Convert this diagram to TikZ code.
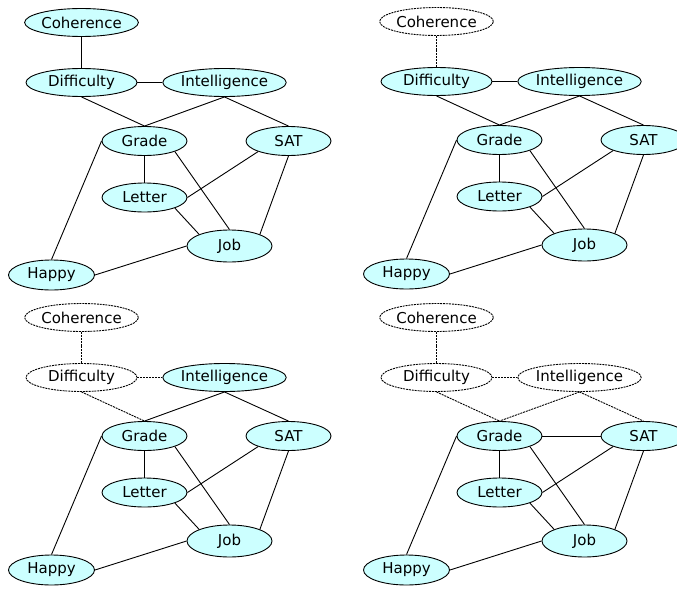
\documentclass[tikz,border=0pt]{standalone}
\usepackage{fontspec}
\setmainfont{DejaVu Sans}
\usetikzlibrary{shapes.geometric}
\definecolor{nodecyan}{RGB}{204,255,255}

\tikzset{
  var/.style={ellipse, draw, line width=0.9pt, fill=nodecyan, inner sep=0pt,
              font=\fontsize{15}{15}\selectfont},
  longvar/.style={var, minimum width=111pt, minimum height=28pt},
  shortvar/.style={var, minimum width=85pt, minimum height=29pt},
  link/.style={line width=0.9pt},
  % removed variables and their edges
  hidden/.style={fill=white, dash pattern=on 2pt off 0.9pt},
  hiddenlink/.style={dash pattern=on 2pt off 0.9pt},
  % per-panel hooks, overridden in each scope
  cohnode/.style={}, difnode/.style={}, intnode/.style={},
  cdedge/.style={}, diedge/.style={}, dgedge/.style={},
  igedge/.style={}, isedge/.style={}
}

% one copy of the student network; #1 is the node-name prefix
\newcommand\studentnet[1]{%
  \node[longvar,cohnode]  (#1coh) at (81.5,22.5) {Coherence};
  \node[longvar,difnode]  (#1dif) at (81.5,82.5) {Difficulty};
  \node[longvar,intnode]  (#1int) at (224.5,82.5) {Intelligence};
  \node[shortvar]         (#1gra) at (144.5,141) {Grade};
  \node[shortvar]         (#1sat) at (288.5,141) {SAT};
  \node[shortvar]         (#1let) at (144.5,197.5) {Letter};
  \node[shortvar, minimum height=32pt] (#1job) at (229.5,246) {Job};
  \node[shortvar, minimum width=86pt, minimum height=30pt] (#1hap) at (51.5,275) {Happy};
  \draw[link,cdedge] (#1coh.south) -- (#1dif.north);
  \draw[link,diedge] (#1dif.east) -- (#1int.west);
  \draw[link,dgedge] (#1dif.south) -- (#1gra.north);
  \draw[link,igedge] (#1int.south) -- (#1gra.north);
  \draw[link,isedge] (#1int.south) -- (#1sat.north);
  \draw[link] (#1gra.south) -- (#1let.north);
  \draw[link] (#1gra.south east) -- (#1job.north);
  \draw[link] (#1sat.south west) -- (#1let.east);
  \draw[link] (#1sat.south) -- (#1job.north east);
  \draw[link] (#1let.south east) -- (#1job.north west);
  \draw[link] (#1gra.west) -- (#1hap.north);
  \draw[link] (#1hap.east) -- (#1job.west);
}

\begin{document}
\begin{tikzpicture}[x=1pt, y=-1pt]
  \clip (0,0) rectangle (677,594);
  \fill[white] (0,0) rectangle (677,594);

  % full network
  \begin{scope}
    \studentnet{a}
  \end{scope}

  % Coherence eliminated
  \begin{scope}[shift={(355,-1)},
      cohnode/.style={hidden}, cdedge/.style={hiddenlink}]
    \studentnet{b}
  \end{scope}

  % Coherence and Difficulty eliminated
  \begin{scope}[shift={(0,295)},
      cohnode/.style={hidden}, difnode/.style={hidden},
      cdedge/.style={hiddenlink}, diedge/.style={hiddenlink},
      dgedge/.style={hiddenlink}]
    \studentnet{c}
  \end{scope}

  % Coherence, Difficulty and Intelligence eliminated
  \begin{scope}[shift={(355,295)},
      cohnode/.style={hidden}, difnode/.style={hidden}, intnode/.style={hidden},
      cdedge/.style={hiddenlink}, diedge/.style={hiddenlink},
      dgedge/.style={hiddenlink}, igedge/.style={hiddenlink},
      isedge/.style={hiddenlink}]
    \studentnet{d}
    \draw[link] (dgra.east) -- (dsat.west);
  \end{scope}
\end{tikzpicture}
\end{document}
